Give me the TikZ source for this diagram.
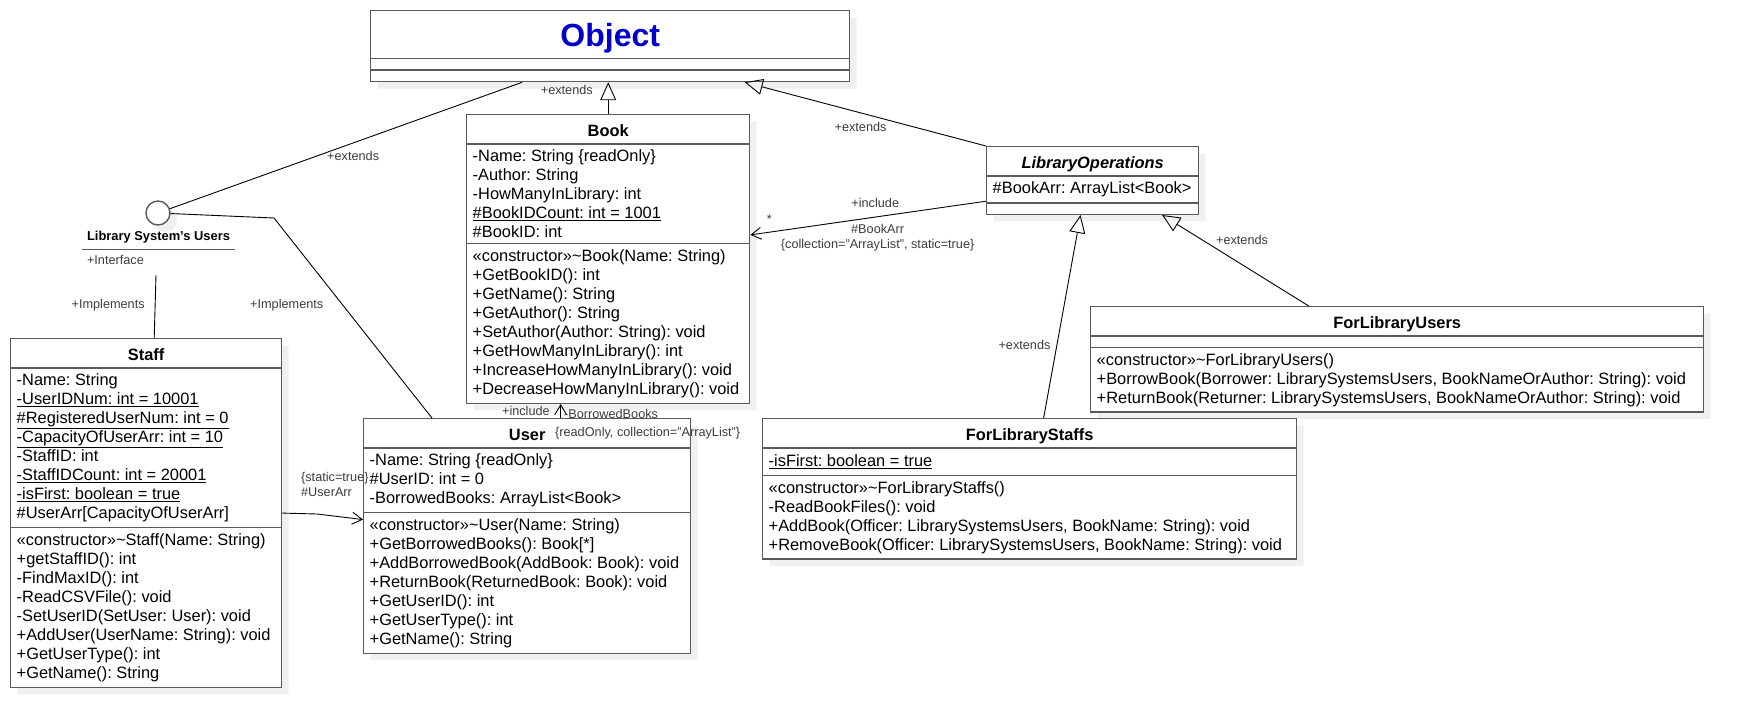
\documentclass[tikz,border=0pt]{standalone}
\usepackage{fontspec}
\setmainfont{Liberation Sans}
\usepackage{xcolor}
\usetikzlibrary{shapes.multipart,shadows,arrows.meta,calc}
\definecolor{boxgray}{RGB}{90,90,90}
\definecolor{labelgray}{RGB}{60,60,60}
\definecolor{objblue}{RGB}{0,0,204}
\newcommand{\classtitle}[1]{\rule[-2pt]{0pt}{18pt}\smash{\textbf{#1}}}
\newcommand{\emptypart}[1]{\raisebox{0pt}[#1][0pt]{\hspace*{1pt}}}

\begin{document}
\begin{tikzpicture}[x=1pt, y=-1pt,
    boxshadow/.style={drop shadow={shadow xshift=7pt, shadow yshift=-7pt, fill=black!6, opacity=1}},
    classbox/.style={rectangle split, rectangle split parts=3, draw=boxgray, line width=1.4pt, fill=white,
      align=left, rectangle split part align={center,left,left}, inner xsep=6pt, inner ysep=5pt,
      anchor=north west, font=\fontsize{16.4}{19}\selectfont\frenchspacing, boxshadow},
    genarrow/.style={-{Triangle[open, length=18pt, width=16pt]}, line width=.9pt},
    assocarrow/.style={-{Straight Barb[length=10pt, width=12pt]}, line width=.9pt},
    edgetext/.style={font=\fontsize{12.7}{15.5}\selectfont, text=labelgray, inner sep=1pt}]
  \useasboundingbox (0,0) rectangle (1742,726);

  % classes
  \node[classbox, minimum width=479pt] (Object) at (370,10)
    {\fontsize{32}{38}\selectfont\rule[-5pt]{0pt}{35pt}\textcolor{objblue}{\textbf{Object}}
     \nodepart{two}\emptypart{-3pt}\nodepart{three}\emptypart{0pt}};
  \node[classbox, minimum width=283pt] (Book) at (466,114)
    {\classtitle{Book}
     \nodepart{two}-Name: String \{readOnly\}\\-Author: String\\-HowManyInLibrary: int\\
       \underline{\#BookIDCount: int = 1001}\\\#BookID: int
     \nodepart{three}«constructor»\textasciitilde Book(Name: String)\\+GetBookID(): int\\+GetName(): String\\
       +GetAuthor(): String\\+SetAuthor(Author: String): void\\+GetHowManyInLibrary(): int\\
       +IncreaseHowManyInLibrary(): void\\+DecreaseHowManyInLibrary(): void};
  \node[classbox, minimum width=327pt] (User) at (363,418)
    {\classtitle{User}
     \nodepart{two}-Name: String \{readOnly\}\\\#UserID: int = 0\\-BorrowedBooks: ArrayList<Book>
     \nodepart{three}«constructor»\textasciitilde User(Name: String)\\+GetBorrowedBooks(): Book[*]\\
       +AddBorrowedBook(AddBook: Book): void\\+ReturnBook(ReturnedBook: Book): void\\
       +GetUserID(): int\\+GetUserType(): int\\+GetName(): String};
  \node[classbox, minimum width=271pt] (Staff) at (10,338)
    {\classtitle{Staff}
     \nodepart{two}-Name: String\\\underline{-UserIDNum: int = 10001}\\\underline{\#RegisteredUserNum: int = 0}\\
       \underline{-CapacityOfUserArr: int = 10}\\-StaffID: int\\\underline{-StaffIDCount: int = 20001}\\
       \underline{-isFirst: boolean = true}\\\#UserArr[CapacityOfUserArr]
     \nodepart{three}«constructor»\textasciitilde Staff(Name: String)\\+getStaffID(): int\\-FindMaxID(): int\\
       -ReadCSVFile(): void\\-SetUserID(SetUser: User): void\\+AddUser(UserName: String): void\\
       +GetUserType(): int\\+GetName(): String};
  \node[classbox, minimum width=212pt] (LibOps) at (986,146)
    {\classtitle{\textit{LibraryOperations}}
     \nodepart{two}\rule[-3pt]{0pt}{15pt}\#BookArr: ArrayList<Book>
     \nodepart{three}\emptypart{-5pt}};
  \node[classbox, minimum width=613pt] (FUsers) at (1090,306)
    {\classtitle{ForLibraryUsers}
     \nodepart{two}\emptypart{-3pt}
     \nodepart{three}«constructor»\textasciitilde ForLibraryUsers()\\
       +BorrowBook(Borrower: LibrarySystemsUsers, BookNameOrAuthor: String): void\\
       +ReturnBook(Returner: LibrarySystemsUsers, BookNameOrAuthor: String): void};
  \node[classbox, minimum width=534pt] (FStaffs) at (762,418)
    {\classtitle{ForLibraryStaffs}
     \nodepart{two}\rule[-3pt]{0pt}{16pt}\underline{-isFirst: boolean = true}
     \nodepart{three}«constructor»\textasciitilde ForLibraryStaffs()\\-ReadBookFiles(): void\\
       +AddBook(Officer: LibrarySystemsUsers, BookName: String): void\\
       +RemoveBook(Officer: LibrarySystemsUsers, BookName: String): void};

  % interface
  \node[circle, draw=boxgray, line width=1.4pt, fill=white, minimum size=24pt, inner sep=0pt, boxshadow] (lsi) at (158,213) {};
  \node[font=\fontsize{12.9}{15}\selectfont\bfseries, minimum width=153pt, inner xsep=0pt, inner ysep=6pt] (lsu) at (158.5,237) {Library System's Users};
  \draw[boxgray, line width=1.4pt] (lsu.south west) -- (lsu.south east);
  \node[edgetext, anchor=north west] (ifl) at ($(lsu.south west)+(4,5)$) {+Interface};

  \coordinate (ifd) at (156,275);
  \coordinate (ub) at (274,218);
  \coordinate (sbend) at (317,514);
  \coordinate (ut) at ($(User.north west)!.602!(User.north east)$);

  % connectors
  \path[genarrow]
    (Book.north) edge node[edgetext, pos=.75, left=14pt] {+extends} (Book.north |- Object.south)
    (LibOps.north west) edge node[edgetext, pos=.52, below=7.5pt] {+extends} ($(Object.south west)!.78!(Object.south east)$)
    ($(FStaffs.north west)!.526!(FStaffs.north east)$) edge node[edgetext, pos=.36, left=5pt] {+extends} ($(LibOps.south west)!.443!(LibOps.south east)$)
    ($(FUsers.north west)!.356!(FUsers.north east)$) edge node[edgetext, pos=.73, right=13pt] {+extends} ($(LibOps.south west)!.825!(LibOps.south east)$);
  \path[line width=.9pt]
    (lsi) edge node[edgetext, pos=.52, below=7pt] {+extends} ($(Object.south west)!.317!(Object.south east)$)
    (ifd) edge node[edgetext, pos=.48, left=9pt] {+Implements} ($(Staff.north)+(8,0)$);
  \draw[line width=.9pt] (lsi) -- (ub) -- node[edgetext, pos=.435, left=18pt] {+Implements} ($(User.north west)!.21!(User.north east)$);
  \draw[assocarrow] (Staff.east) -- node[edgetext, pos=.5, anchor=south west, yshift=15pt, align=left] {\{static=true\}\\\#UserArr} (sbend)
    -- ($(User.north west)!.43!(User.south west)$);
  \path[assocarrow]
    ($(LibOps.north west)!.8!(LibOps.south west)$) edge
      node[edgetext, pos=.47, above=8pt] {+include}
      node[edgetext, pos=.46, below=6pt, align=center] {\#BookArr\\\{collection="ArrayList", static=true\}}
      node[edgetext, pos=.92, above=7pt] {*}
      ($(Book.north east)!.417!(Book.south east)$)
    (ut) edge
      node[edgetext, pos=.5, left=9.5pt] {+include}
      node[edgetext, pos=.29, right=2pt] {-BorrowedBooks}
      node[edgetext, pos=0, anchor=north west, xshift=-7pt, yshift=-8pt] {\{readOnly, collection="ArrayList"\}}
      (ut |- Book.south);
\end{tikzpicture}
\end{document}
